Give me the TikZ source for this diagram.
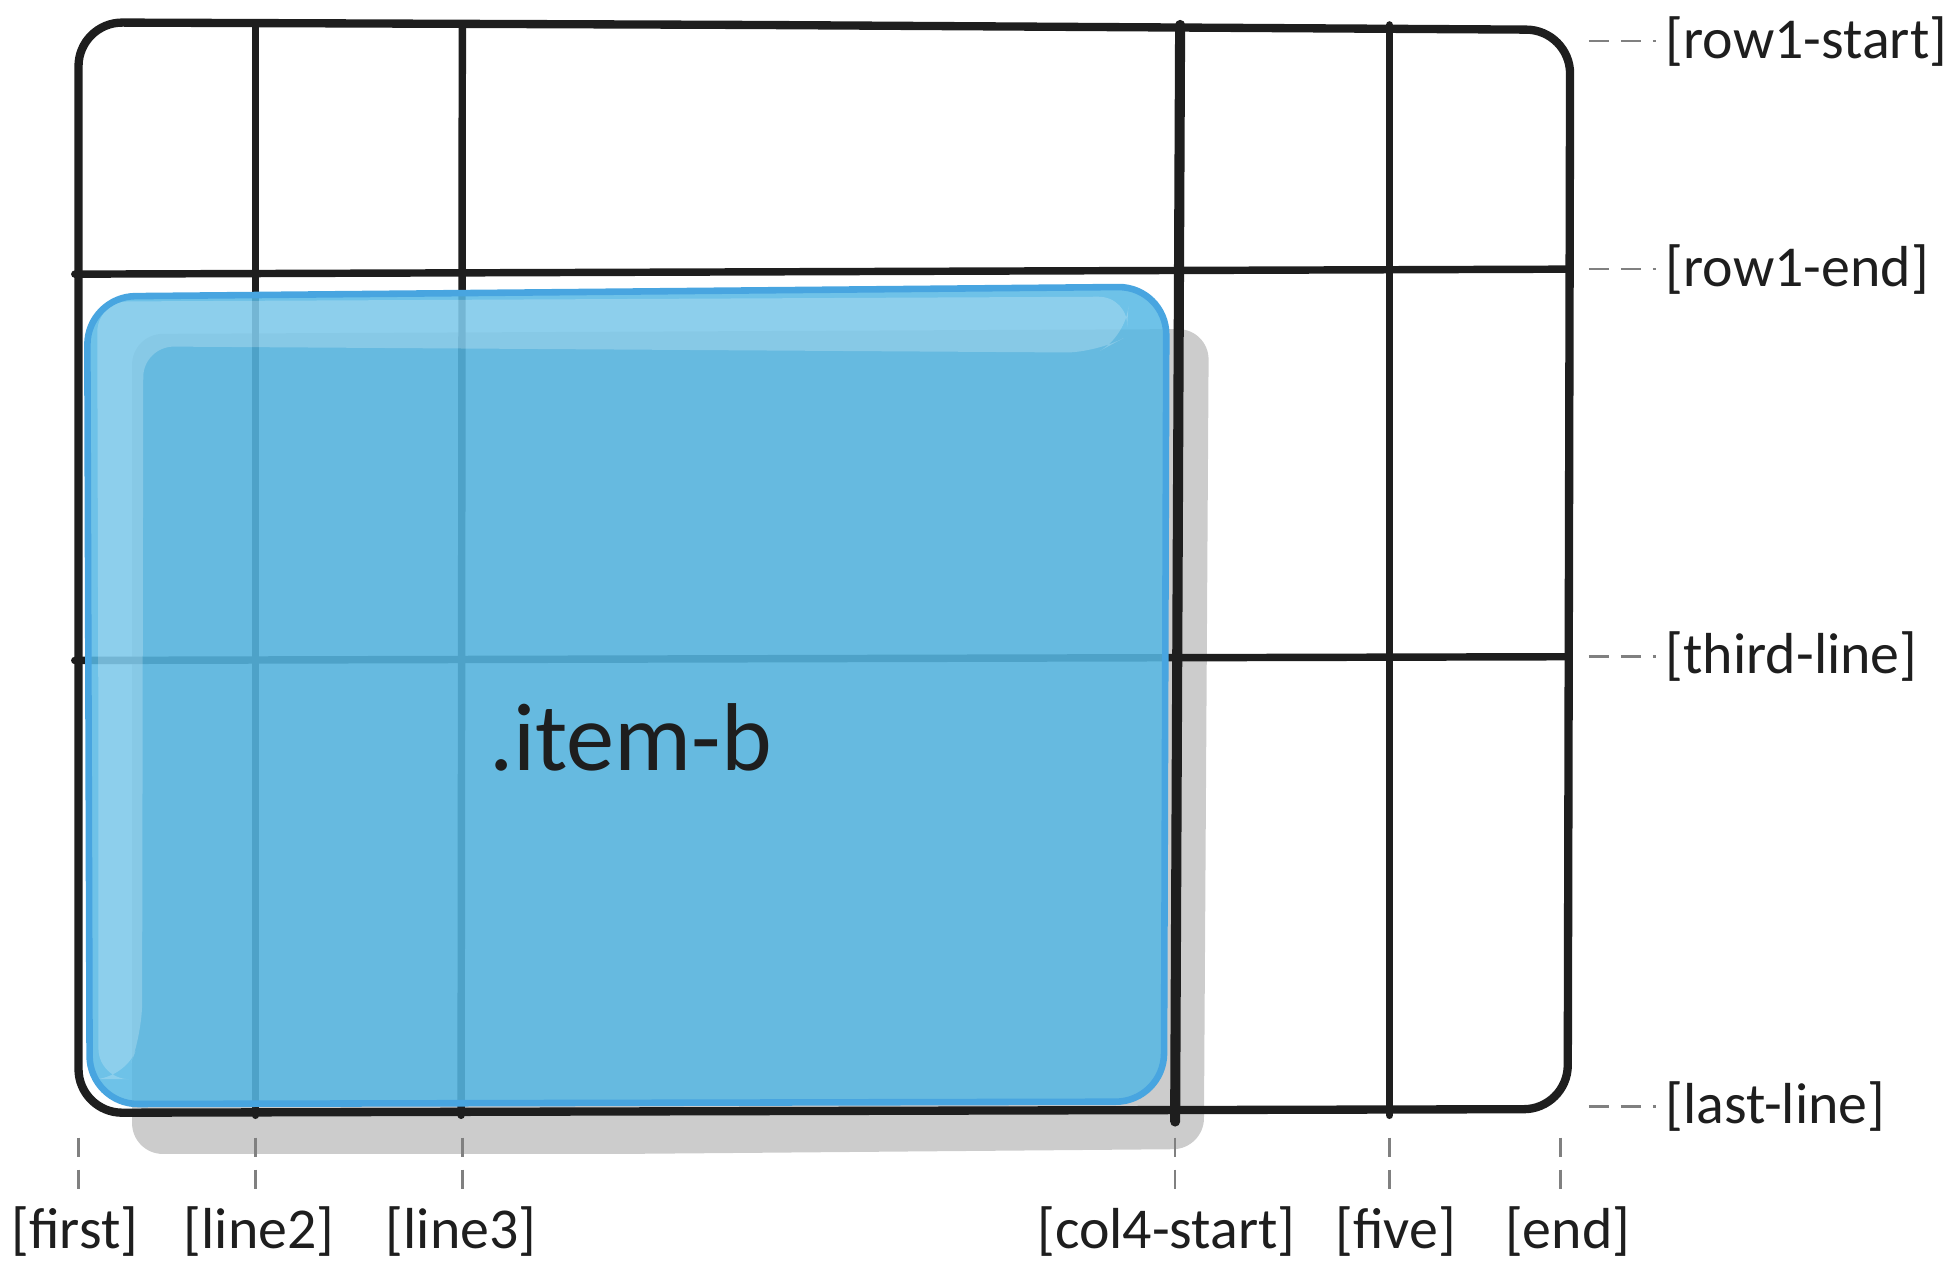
\documentclass[tikz,border=0pt]{standalone}
\usepackage{fontspec}
\setmainfont{Carlito}
\usepackage{tikz}
\usetikzlibrary{positioning,calc}

\definecolor{ink}{HTML}{1E1E1E}
\definecolor{itemblue}{RGB}{86,184,228}
\definecolor{itemedge}{HTML}{48A5E0}
\definecolor{guidegray}{HTML}{808080}
\definecolor{shadegray}{HTML}{CCCCCC}

\tikzset{
  gridline/.style={ink, line width=1.7pt, line cap=round},
  guideline/.style={guidegray, line width=0.6pt, dash pattern=on 4.5pt off 2.8pt},
  linename/.style={font=\fontsize{13.2}{15}\selectfont, text=ink, inner sep=2pt},
}

\begin{document}
\begin{tikzpicture}[x=0.01cm,y=-0.01cm]
\useasboundingbox (0,0) rectangle (1568,1022);

%-------------------------------------------------------------------
% Shadow of the item
\fill[shadegray, rounded corners=7pt] (500,926) -- (106,926) -- (106,268)
  -- (970,264) -- (966,922) -- cycle;

%-------------------------------------------------------------------
% Grid container
\draw[gridline, line width=1.9pt, rounded corners=10pt]
  (600,20) -- (63,18) -- (63,893) -- (1258,890) -- (1260,24) -- cycle;

% Column lines
\foreach \x/\xb in {205/205, 371/370, 1115/1115}{
    \draw[gridline] (\x,20) -- (\xb,895);
}
\draw[gridline, line width=2.3pt] (947,20) -- (943,900);

% Row lines
\draw[gridline] (60,220) -- (1258,216);
\draw[gridline] (60,530) -- (1258,527);

%-------------------------------------------------------------------
% .item-b
\fill[itemblue, fill opacity=0.86, rounded corners=11pt]
  (500,885) -- (72,886) -- (70,238) -- (936,230) -- (934,884) -- cycle;
% highlight
\fill[white, fill opacity=0.22, rounded corners=7pt]
  (79,600) -- (78,242) -- (906,238) -- (904,270) -- (880,283) -- (115,278)
  -- (114,830) -- (100,866) -- (79,866) -- cycle;
\draw[itemedge, line width=1.5pt, rounded corners=11pt]
  (500,885) -- (72,886) -- (70,238) -- (936,230) -- (934,884) -- cycle;

\node[font=\fontsize{22}{26}\selectfont, text=ink] (itemb) at (506,592) {.item-b};

%-------------------------------------------------------------------
% Row line names
\foreach \y/\nm in {33/row1-start, 216/row1-end, 527/third-line, 888/last-line}{
    \node[linename, anchor=west] (\nm) at (1329,\y) {[\nm]};
    \coordinate (g-\nm) at (1275,\y);
    \draw[guideline] (g-\nm) -- (\nm.west);
}

% Column line names
\foreach \x/\gx/\nm in {60/63/first, 208/205/line2, 370/371/line3,
                        936/943/col4-start, 1120/1115/five, 1258/1252/end}{
    \node[linename] (\nm) at (\x,988) {[\nm]};
    \coordinate (g-\nm) at (\gx,913);
    \draw[guideline] (g-\nm) -- (g-\nm |- \nm.north);
}

\end{tikzpicture}
\end{document}
